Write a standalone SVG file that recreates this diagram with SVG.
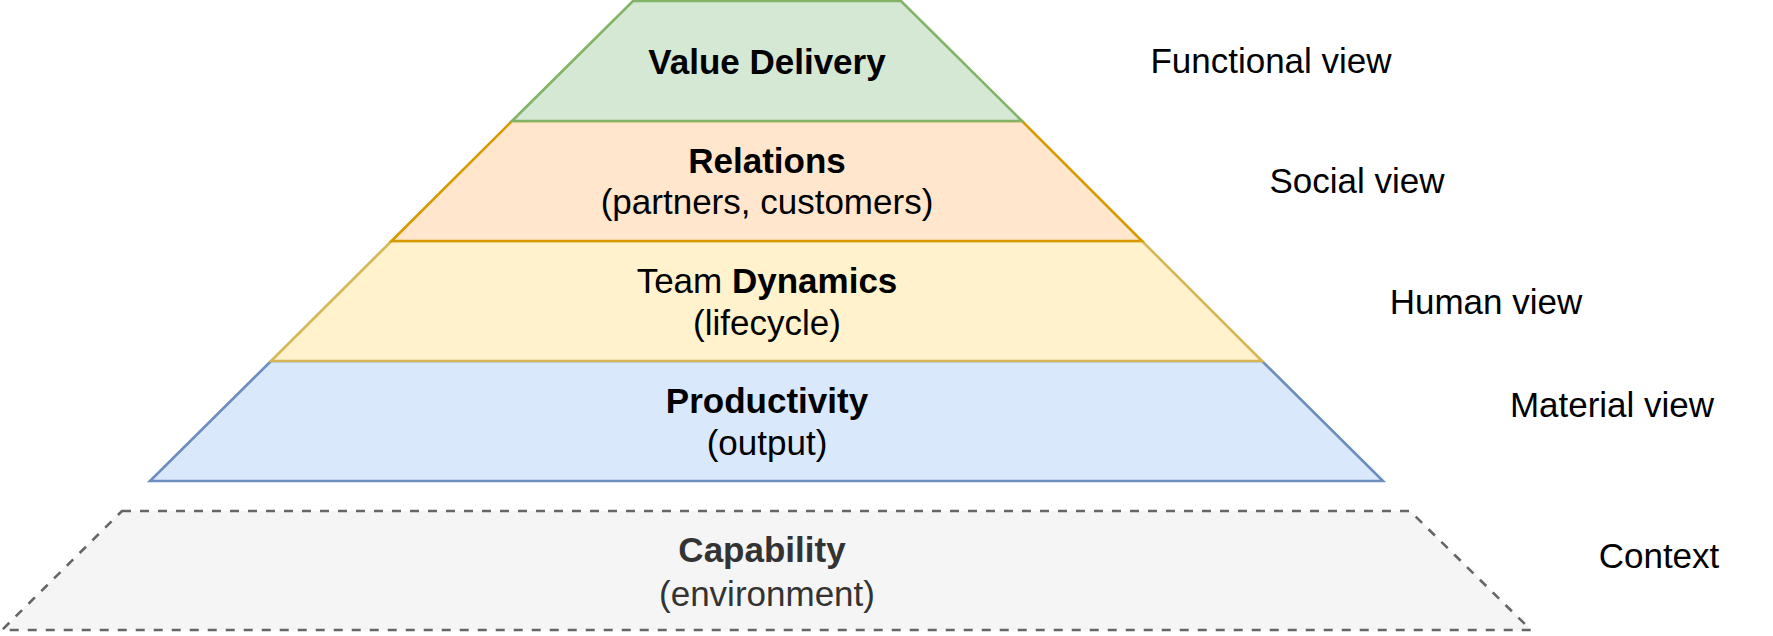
<svg xmlns="http://www.w3.org/2000/svg" width="1773" height="636" viewBox="0 0 1773 636">
<style>
  .layer { stroke-width: 2.6; stroke-linejoin: miter; }
  .t { font-family: Helvetica, "Liberation Sans", Arial, sans-serif; font-size: 35px; fill: #000000; text-anchor: middle; }
  .b { font-weight: bold; }
  .gray { fill: #333333; }
  .side { font-family: Helvetica, "Liberation Sans", Arial, sans-serif; font-size: 35px; fill: #000000; text-anchor: middle; }
</style>
<rect x="0" y="0" width="1773" height="636" fill="#ffffff"/>
<g id="capability">
  <polygon class="layer" points="122,511 1410,511 1531,630 2,630" fill="#f5f5f5" stroke="#666666" stroke-width="3" stroke-dasharray="9 9"/>
  <text class="t b gray" x="762" y="562">Capability</text>
  <text class="t gray" x="767" y="606">(environment)</text>
</g>
<g id="productivity">
  <polygon class="layer" points="271,361 1262,361 1383,481 150,481" fill="#dae8fc" stroke="#6c8ebf"/>
  <text class="t b" x="767" y="413">Productivity</text>
  <text class="t" x="767" y="455">(output)</text>
</g>
<g id="team-dynamics">
  <polygon class="layer" points="391.5,241 1142,241 1262,361 271,361" fill="#fff2cc" stroke="#d6b656"/>
  <text class="t" x="767" y="293">Team <tspan class="b">Dynamics</tspan></text>
  <text class="t" x="767" y="335">(lifecycle)</text>
</g>
<g id="relations">
  <polygon class="layer" points="512,121 1022,121 1142,241 391.5,241" fill="#ffe6cc" stroke="#d79b00"/>
  <text class="t b" x="767" y="173">Relations</text>
  <text class="t" x="767" y="214">(partners, customers)</text>
</g>
<g id="value-delivery">
  <polygon class="layer" points="633,1 901,1 1022,121 512,121" fill="#d5e8d4" stroke="#82b366"/>
  <text class="t b" x="767" y="74">Value Delivery</text>
</g>
<g id="functional-view"><text class="side" x="1271" y="73">Functional view</text></g>
<g id="social-view"><text class="side" x="1357" y="193">Social view</text></g>
<g id="human-view"><text class="side" x="1486" y="314">Human view</text></g>
<g id="material-view"><text class="side" x="1612" y="417">Material view</text></g>
<g id="context"><text class="side" x="1659" y="568">Context</text></g>
<g id="connectors"></g>
</svg>
